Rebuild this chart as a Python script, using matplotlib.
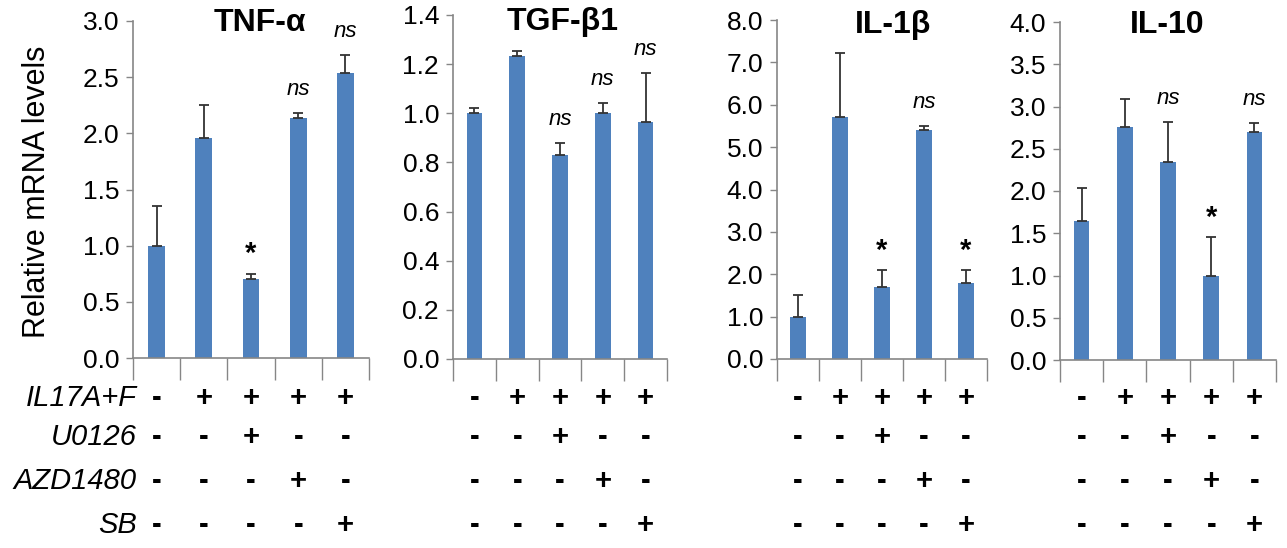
import matplotlib
matplotlib.use("Agg")
import matplotlib.pyplot as plt
import matplotlib.transforms as mtransforms
import numpy as np

# ========== DATA ==========
genes = ["TNF-α", "TGF-β1", "IL-1β", "IL-10"]

tnf_mean = [1.00, 1.96, 0.70, 2.14, 2.54]
tnf_err = [0.35, 0.29, 0.05, 0.04, 0.16]
tgf_mean = [1.00, 1.235, 0.83, 1.00, 0.965]
tgf_err = [0.02, 0.02, 0.05, 0.04, 0.20]
il1b_mean = [1.00, 5.72, 1.70, 5.40, 1.80]
il1b_err = [0.50, 1.51, 0.40, 0.10, 0.30]
il10_mean = [1.65, 2.76, 2.34, 0.99, 2.70]
il10_err = [0.39, 0.33, 0.48, 0.46, 0.10]

tnf_sig = ["", "", "*", "ns", "ns"]
tgf_sig = ["", "", "ns", "ns", "ns"]
il1b_sig = ["", "", "*", "ns", "*"]
il10_sig = ["", "", "ns", "*", "ns"]

y_max = [3.0, 1.4, 8.0, 4.0]
y_step = [0.5, 0.2, 1.0, 0.5]

treatments = ["IL17A+F", "U0126", "AZD1480", "SB"]
il17 = ["-", "+", "+", "+", "+"]
u0126 = ["-", "-", "+", "-", "-"]
azd1480 = ["-", "-", "-", "+", "-"]
sb = ["-", "-", "-", "-", "+"]

means = [tnf_mean, tgf_mean, il1b_mean, il10_mean]
errs = [tnf_err, tgf_err, il1b_err, il10_err]
sigs = [tnf_sig, tgf_sig, il1b_sig, il10_sig]
table = [il17, u0126, azd1480, sb]

# ========== STYLE ==========
plt.rcParams["font.family"] = ["Liberation Sans", "DejaVu Sans"]
BAR_COLOR = "#4F81BD"
AXIS_COLOR = "#868686"
W, H = 1287, 548

# axes boxes in pixels: left, right, top, bottom
boxes = [(133, 369, 21, 358), (453, 667, 15, 359),
         (777, 987, 20, 359), (1060, 1276, 22, 360)]
title_xy = [(260, 23), (563, 22), (893, 25), (1167, 25)]
row_y = [398, 437, 481, 525]

fig = plt.figure(figsize=(W / 100, H / 100), dpi=100)

for i, (l, r, t, b) in enumerate(boxes):
    ax = fig.add_axes([l / W, 1 - b / H, (r - l) / W, (b - t) / H])
    x = np.arange(len(means[i])) + 0.5
    ax.bar(x, means[i], width=0.36, color=BAR_COLOR, zorder=2)
    ax.errorbar(x, means[i], yerr=[np.zeros(len(errs[i])), errs[i]],
                fmt="none", ecolor="#333333", elinewidth=1.3,
                capsize=3.5, capthick=1.3, zorder=3)

    ax.set_xlim(0, len(x))
    ax.set_ylim(0, y_max[i])
    ax.set_yticks(np.arange(0, y_max[i] + 1e-9, y_step[i]))
    ax.yaxis.set_major_formatter(matplotlib.ticker.FormatStrFormatter("%.1f"))
    ax.tick_params(axis="y", labelsize=19, length=5, width=1,
                   color=AXIS_COLOR, pad=5)
    ax.set_xticks(np.arange(0, len(x) + 1))
    ax.set_xticklabels([])
    ax.tick_params(axis="x", length=16, width=1, color=AXIS_COLOR)

    for side in ["top", "right"]:
        ax.spines[side].set_visible(False)
    for side in ["left", "bottom"]:
        ax.spines[side].set_color(AXIS_COLOR)
        ax.spines[side].set_linewidth(1.2)

    tx, ty = title_xy[i]
    fig.text(tx / W, 1 - ty / H, genes[i], ha="center", va="center",
             fontsize=23, fontweight="bold")

    # significance marks
    for xi, m, e, s in zip(x, means[i], errs[i], sigs[i]):
        if s == "ns":
            ax.annotate(s, (xi, m + e), xytext=(0, 17), textcoords="offset points",
                        ha="center", va="center", fontsize=16, style="italic")
        elif s == "*":
            ax.annotate(s, (xi, m + e), xytext=(0, 14), textcoords="offset points",
                        ha="center", va="center", fontsize=21, fontweight="bold")

    # treatment table below
    trans = mtransforms.blended_transform_factory(ax.transData, fig.transFigure)
    for row, ry in zip(table, row_y):
        for xi, s in zip(x, row):
            ax.text(xi, 1 - ry / H, s, transform=trans, ha="center", va="center",
                    fontsize=21, fontweight="bold")

for name, ry in zip(treatments, row_y):
    fig.text(137 / W, 1 - ry / H, name, ha="right", va="center",
             fontsize=21, style="italic")

fig.text(37 / W, 1 - 192 / H, "Relative mRNA levels", rotation=90,
         ha="center", va="center", fontsize=22)

fig.savefig("out.png", dpi=100)
